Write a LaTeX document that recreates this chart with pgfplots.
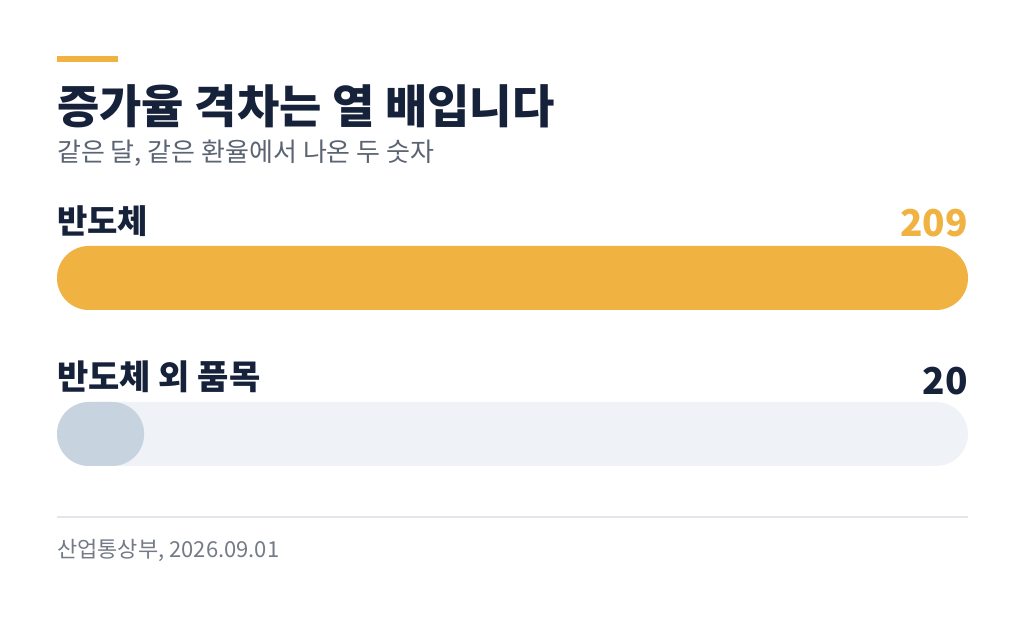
\documentclass[border=0pt]{standalone}
\usepackage{pgfplots}
\pgfplotsset{compat=1.18}
\usepackage{fontspec}
\setmainfont{Noto Sans CJK KR}
\definecolor{navy}{HTML}{16213A}
\definecolor{gold}{HTML}{F0B241}
\definecolor{track}{HTML}{EFF3F8}
\definecolor{greybar}{HTML}{C8D3E0}
\definecolor{subgrey}{HTML}{5B6472}
\definecolor{rule}{HTML}{E3E6EA}

\begin{document}
\begin{tikzpicture}[x=1pt,y=1pt]
% page frame, 1px = 1pt, y measured upward from the bottom
\path[fill=white] (0,0) rectangle (1024,617);
% accent bar
\fill[gold] (57,555) rectangle (118,561);
\node[anchor=base west,inner sep=0,text=navy,font=\fontsize{46}{46}\selectfont\bfseries] at (57,493) {증가율 격차는 열 배입니다};
\node[anchor=base west,inner sep=0,text=subgrey,font=\fontsize{26}{26}\selectfont] at (57,455) {같은 달, 같은 환율에서 나온 두 숫자};

\begin{axis}[
  at={(57pt,105pt)}, anchor=south west,
  scale only axis, width=911pt, height=312pt,
  xmin=0, xmax=209, ymin=-0.5, ymax=1.5,
  hide axis, clip=false,
  xbar, bar width=64pt, bar shift=0pt,
]
  % tracks
  \addplot[draw=none, fill=track, rounded corners=32pt] coordinates {(209,1) (209,0)};
  % values
  \addplot[draw=none, fill=gold, rounded corners=32pt] coordinates {(209,1)};
  \addplot[draw=none, fill=greybar, rounded corners=32pt] coordinates {(20,0)};

  \node[anchor=base west,inner sep=0,text=navy,font=\fontsize{33}{33}\selectfont\bfseries]
    at ([yshift=44pt]axis cs:0,1) {반도체};
  \node[anchor=base east,inner sep=0,text=gold,font=\fontsize{37}{37}\selectfont\bfseries]
    at ([yshift=41pt]axis cs:209,1) {209};
  \node[anchor=base west,inner sep=0,text=navy,font=\fontsize{34}{34}\selectfont\bfseries]
    at ([yshift=44pt]axis cs:0,0) {반도체 외 품목};
  \node[anchor=base east,inner sep=0,text=navy,font=\fontsize{37}{37}\selectfont\bfseries]
    at ([yshift=39pt]axis cs:209,0) {20};
\end{axis}

% divider and source
\draw[rule,line width=1.5pt] (57,100) -- (968,100);
\node[anchor=base west,inner sep=0,text=subgrey!85,font=\fontsize{22}{22}\selectfont] at (57,59) {산업통상부, 2026.09.01};
\end{tikzpicture}
\end{document}
